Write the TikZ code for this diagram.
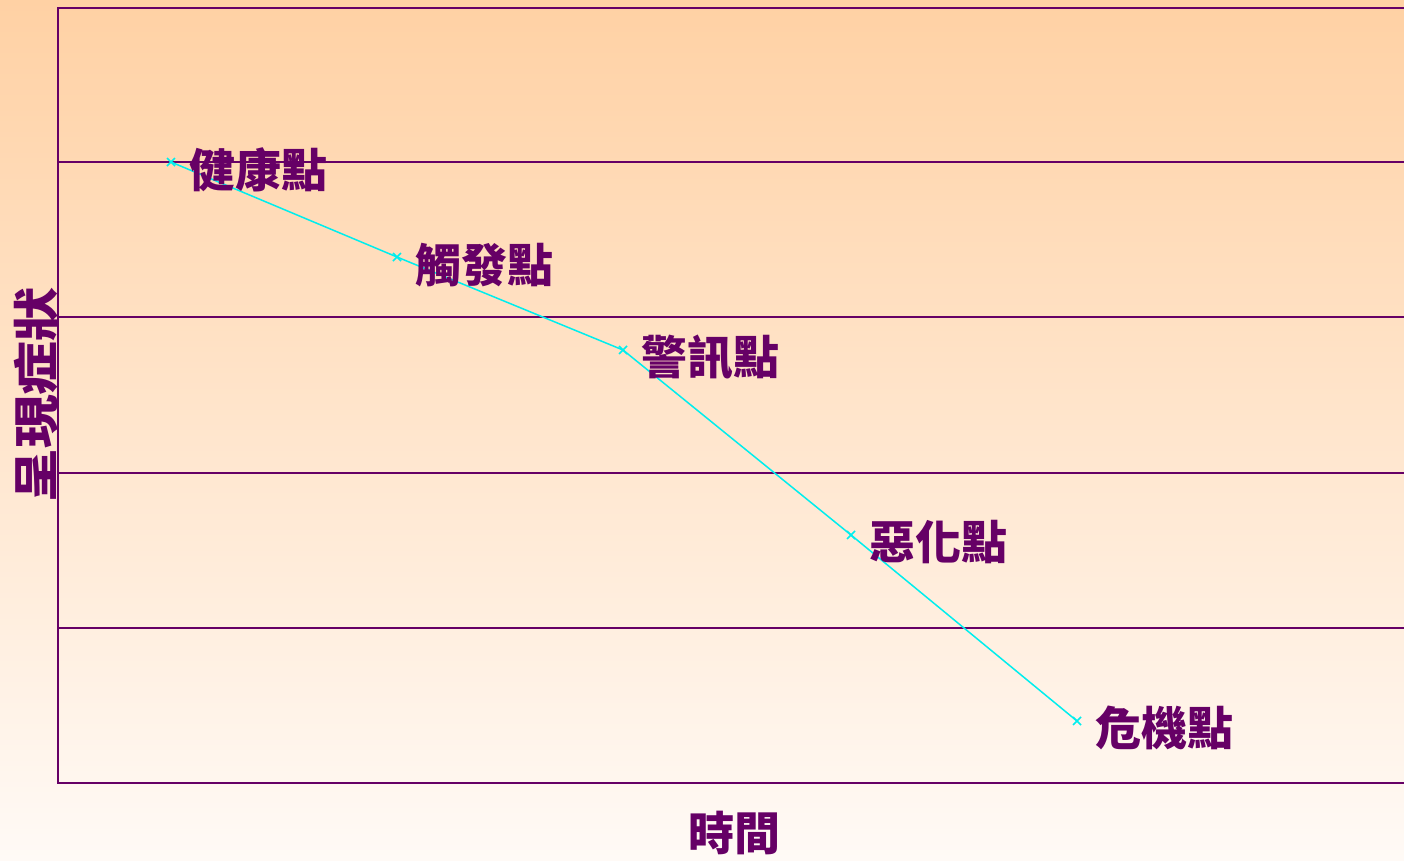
\documentclass[tikz,border=0pt]{standalone}
\usepackage{fontspec}
\usetikzlibrary{calc}
\newfontfamily\cjk{Noto Sans CJK TC}
\definecolor{pur}{RGB}{102,0,102}
\definecolor{topc}{RGB}{255,209,164}
\definecolor{botc}{RGB}{255,250,246}
\definecolor{cy}{RGB}{0,238,238}
\tikzset{
  grid line/.style={draw=pur,line width=2pt},
  lbl/.style={font=\cjk\bfseries\fontsize{46}{46}\selectfont,text=pur,inner sep=0pt,anchor=west},
}
\begin{document}
\begin{tikzpicture}[x=1pt,y=-1pt]
\useasboundingbox (0,0) rectangle (1404,860);
\shade[top color=topc,bottom color=botc] (0,0) rectangle (1404,860);
\foreach \yy in {8,162,317,473,628,783}{
  \draw[grid line] (58,\yy) -- (1404,\yy);
}
\draw[grid line] (58,7) -- (58,784);
% markers
\coordinate (p1) at (171,162);
\coordinate (p2) at (397,257);
\coordinate (p3) at (623,350);
\coordinate (p4) at (851,535);
\coordinate (p5) at (1077,721);
\draw[cy,line width=1.5pt] (p1) -- (p2) -- (p3) -- (p4) -- (p5);
\foreach \p in {p1,p2,p3,p4,p5}{
  \draw[cy,line width=1.5pt] ($(\p)+(-4,-4)$) -- ($(\p)+(4,4)$) ($(\p)+(-4,4)$) -- ($(\p)+(4,-4)$);
}
\node[lbl] (l1) at (189,170) {健康點};
\node[lbl] (l2) at (415,265) {觸發點};
\node[lbl] (l3) at (641,357) {警訊點};
\node[lbl] (l4) at (869,542) {惡化點};
\node[lbl] (l5) at (1095,728) {危機點};
\node[lbl,anchor=center,rotate=90,xscale=1.17] (yl) at (36,395) {呈現症狀};
\node[lbl,anchor=center] (xl) at (734,833) {時間};
\end{tikzpicture}
\end{document}
